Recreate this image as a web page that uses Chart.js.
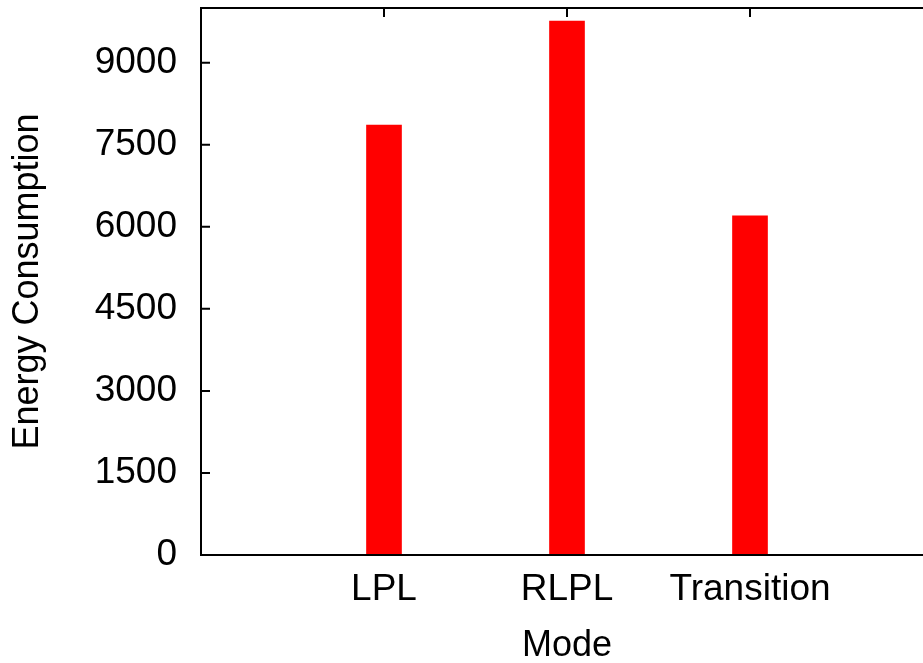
<!DOCTYPE html>
<html>
<head>
<meta charset="utf-8">
<title>Energy Consumption by Mode</title>
<script src="https://cdn.jsdelivr.net/npm/chart.js@4/dist/chart.umd.min.js"></script>
<style>
  html, body { margin: 0; padding: 0; overflow: hidden; background: #fff; }
  #wrap { width: 945px; height: 663px; }
</style>
</head>
<body>
<div id="wrap"><canvas id="chart" width="945" height="663"></canvas></div>
<script>
// Energy used in each operating mode
const categories = ['LPL', 'RLPL', 'Transition'];
const energyValues = [7860, 9760, 6200];
const yTickValues = [0, 1500, 3000, 4500, 6000, 7500, 9000];
const yMax = 10000;

const FAMILY = '"Liberation Sans", Arial, Helvetica, sans-serif';
const TICK_FONT = { family: FAMILY, size: 37 };
const TITLE_FONT = { family: FAMILY, size: 36 };

// Empty slots at both ends give the half-open frame around the three bars
const axisLabels = [''].concat(categories, ['']);
const barData = [null].concat(energyValues, [null]);

// Gnuplot-style frame with inward tick marks
const framePlugin = {
  id: 'frame',
  beforeDatasetsDraw(chart) {
    const { ctx, chartArea: a, scales } = chart;
    const tl = 9;
    ctx.save();
    ctx.strokeStyle = '#000';
    ctx.lineWidth = 2;
    ctx.beginPath();
    yTickValues.forEach(v => {
      const py = scales.y.getPixelForValue(v);
      ctx.moveTo(a.left, py); ctx.lineTo(a.left + tl, py);
      ctx.moveTo(a.right, py); ctx.lineTo(a.right - tl, py);
    });
    categories.forEach((c, i) => {
      const px = scales.x.getPixelForValue(i + 1);
      ctx.moveTo(px, a.top); ctx.lineTo(px, a.top + tl);
      ctx.moveTo(px, a.bottom); ctx.lineTo(px, a.bottom - tl);
    });
    ctx.stroke();
    ctx.restore();
  },
  afterDatasetsDraw(chart) {
    const { ctx, chartArea: a } = chart;
    ctx.save();
    ctx.strokeStyle = '#000';
    ctx.lineWidth = 2;
    ctx.strokeRect(a.left, a.top, a.right - a.left, a.bottom - a.top);
    ctx.restore();
  }
};

new Chart(document.getElementById('chart'), {
  type: 'bar',
  data: {
    labels: axisLabels,
    datasets: [{
      label: 'Energy Consumption',
      data: barData,
      backgroundColor: '#ff0000',
      borderWidth: 0,
      barThickness: 35
    }]
  },
  options: {
    responsive: false,
    animation: false,
    devicePixelRatio: 1,
    layout: { padding: { left: 0, top: 8, right: 12, bottom: 0 } },
    plugins: { legend: { display: false }, tooltip: { enabled: false } },
    scales: {
      x: {
        type: 'category',
        offset: false,
        grid: { display: false, drawTicks: false },
        border: { display: false },
        ticks: { font: TICK_FONT, color: '#000', padding: 13, autoSkip: false, maxRotation: 0 },
        title: { display: true, text: 'Mode', font: TITLE_FONT, color: '#000', padding: -5 },
        afterFit(scale) {
          scale.height = 108;
          scale.paddingLeft = 0;
          scale.paddingRight = 0;
        }
      },
      y: {
        min: 0,
        max: yMax,
        grid: { display: false, drawTicks: false },
        border: { display: false },
        ticks: { font: TICK_FONT, color: '#000', padding: 24, callback: v => String(v) },
        afterBuildTicks(scale) { scale.ticks = yTickValues.map(v => ({ value: v })); },
        title: { display: true, text: 'Energy Consumption', font: TITLE_FONT, color: '#000', padding: 6 },
        afterFit(scale) {
          scale.width = 201;
          scale.paddingTop = 0;
          scale.paddingBottom = 0;
        }
      }
    }
  },
  plugins: [framePlugin]
});
</script>
</body>
</html>
